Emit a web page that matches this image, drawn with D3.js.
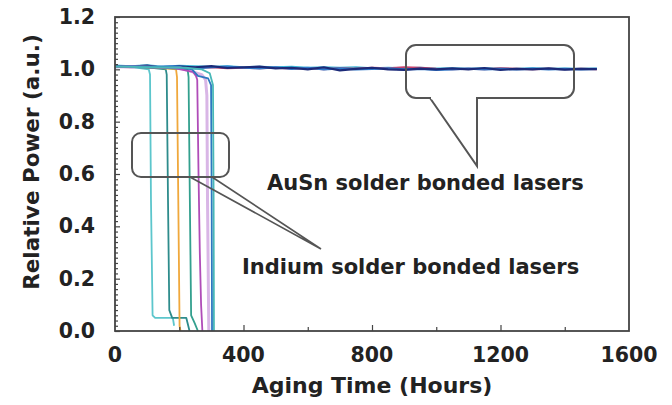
<!DOCTYPE html>
<html><head><meta charset="utf-8">
<script src="https://cdn.jsdelivr.net/npm/d3@7"></script>
<style>
html,body{margin:0;padding:0;background:#fff;}
text{font-family:"DejaVu Sans",Verdana,sans-serif;font-weight:bold;fill:#222;}
</style></head>
<body><svg id="c" width="672" height="405"></svg>
<script>
// ---- data ----
const xTicks = [0, 400, 800, 1200, 1600];
const yTicks = [0.0, 0.2, 0.4, 0.6, 0.8, 1.0, 1.2];
const xLabel = "Aging Time (Hours)";
const yLabel = "Relative Power (a.u.)";
const ausnHours = [0,50,100,150,200,250,300,350,400,450,500,550,600,650,700,750,800,850,900,950,1000,1050,1100,1150,1200,1250,1300,1350,1400,1450,1500];
const ausnNavy  = [1.012,1.01,1.014,1.006,1.01,1.008,1.012,1.005,1.008,1.01,1.004,1.006,1.0,1.008,0.996,1.002,1.006,1.0,0.998,1.003,1.0,1.004,1.0,1.005,0.998,1.002,1.0,1.004,0.999,1.002,1.001];
const ausnBlue  = [1.008,1.012,1.006,1.01,1.012,1.004,1.008,1.01,1.006,1.004,1.008,1.002,1.006,1.0,1.004,1.0,1.002,1.004,1.0,1.002,0.998,1.0,1.003,1.0,1.002,1.0,1.003,1.0,1.002,1.0,1.002];
const ausnCyan  = [1.015,1.012,1.016,1.01,1.014,1.012,1.01,1.012,1.008,1.01,1.008,1.01,1.006,1.008,1.006,1.008,1.004,1.006,1.004,1.006,1.003,1.004,1.002,1.004,1.003,1.002,1.004,1.002,1.003,1.002,1.003];
const ausnRed   = [1.01,1.008,1.01,1.006,1.008,1.006,1.008,1.004,1.006,1.004,1.006,1.002,1.004,1.0,1.004,1.002,1.006,1.004,1.008,1.006,1.002,1.0,1.002,1.0,1.004,1.002,1.0,1.002,1.0,1.002,1.0];
const indiumCyan   = [[0,1.01],[60,1.008],[105,1.0],[109,0.98],[112,0.5],[117,0.06],[125,0.05],[180,0.05],[184,0.02]];
const indiumTeal   = [[0,1.01],[100,1.008],[158,1.0],[161,0.98],[165,0.5],[169,0.08],[178,0.05],[222,0.05],[228,0.02],[232,0.0]];
const indiumOrange = [[0,1.01],[120,1.008],[190,1.0],[193,0.97],[197,0.5],[201,0.02],[204,0.0]];
const indiumGreen  = [[0,1.01],[150,1.006],[226,1.0],[229,0.97],[233,0.5],[237,0.06],[248,0.03],[258,0.0]];
const indiumMagenta= [[0,1.01],[180,1.006],[243,0.99],[252,0.975],[256,0.96],[260,0.6],[264,0.3],[268,0.1],[272,0.0]];
const indiumLilac  = [[0,1.01],[200,1.006],[270,0.98],[282,0.96],[286,0.9],[288,0.5],[292,0.0]];
const indiumBlue   = [[0,1.012],[200,1.008],[240,1.0],[258,0.975],[290,0.965],[299,0.94],[301,0.5],[302,0.0]];
const indiumTeal2  = [[0,1.01],[220,1.006],[270,1.0],[295,0.985],[305,0.94],[307,0.5],[308,0.0]];

// ---- layout ----
const svg = d3.select("#c");
const x = d3.scaleLinear().domain([0,1600]).range([115,629]);
const y = d3.scaleLinear().domain([0,1.2]).range([331,17]);

const ausnSeries = [
  {v: ausnCyan, c:"#3fb8d8", w:2},
  {v: ausnRed, c:"#c8406a", w:2},
  {v: ausnBlue, c:"#2f78c8", w:2.2},
  {v: ausnNavy, c:"#1c2a78", w:2.2}
];
const line = d3.line().x(d=>x(d[0])).y(d=>y(d[1]));
ausnSeries.forEach(s=>{
  svg.append("path").attr("d", line(ausnHours.map((h,i)=>[h,s.v[i]])))
    .attr("fill","none").attr("stroke",s.c).attr("stroke-width",s.w).attr("stroke-linejoin","round");
});

const indiumSeries = [
  {v: indiumLilac, c:"#d9b6e6", w:3},
  {v: indiumCyan, c:"#5cc6cc", w:1.8},
  {v: indiumTeal, c:"#2e8c8c", w:1.8},
  {v: indiumOrange, c:"#f0a83c", w:1.8},
  {v: indiumGreen, c:"#33a08e", w:1.8},
  {v: indiumMagenta, c:"#b04cb8", w:1.8},
  {v: indiumBlue, c:"#2d78c0", w:1.8},
  {v: indiumTeal2, c:"#48b8b8", w:1.8}
];
indiumSeries.forEach(s=>{
  svg.append("path").attr("d", line(s.v))
    .attr("fill","none").attr("stroke",s.c).attr("stroke-width",s.w).attr("stroke-linejoin","round");
});

svg.append("rect").attr("x",x(0)).attr("y",y(1.2)).attr("width",x(1600)-x(0)).attr("height",y(0)-y(1.2))
  .attr("fill","none").attr("stroke","#444").attr("stroke-width",1.8);

const xAxis = d3.axisTop(x).tickValues(d3.range(200,1600,200)).tickSize(5).tickFormat("");
const gx = svg.append("g").attr("transform",`translate(0,${y(0)})`).call(xAxis);
gx.select(".domain").remove();
gx.selectAll(".tick line").attr("stroke","#444").attr("stroke-width",1.2)
  .attr("y2", d=> d%400===0 ? -6 : -4);
const yAxis = d3.axisRight(y).tickValues(d3.range(0,1.2001,0.02)).tickSize(3).tickFormat("");
const gy = svg.append("g").attr("transform",`translate(${x(0)},0)`).call(yAxis);
gy.select(".domain").remove();
gy.selectAll(".tick line").attr("stroke","#444").attr("stroke-width",1.2)
  .attr("x2", (d,i)=> i%10===0 ? 5 : 3);

svg.selectAll(".xl").data(xTicks).enter().append("text")
  .attr("x",d=>x(d)).attr("y",y(0)+31).attr("text-anchor","middle").attr("font-size",20.5).text(d=>d);
svg.selectAll(".yl").data(yTicks).enter().append("text")
  .attr("x",95).attr("y",d=>y(d)+7).attr("text-anchor","end").attr("font-size",20.5).text(d=>d.toFixed(1));

svg.append("text").attr("x",(x(0)+x(1600))/2).attr("y",393).attr("text-anchor","middle").attr("font-size",22).text(xLabel);
svg.append("text").attr("transform","translate(39,162) rotate(-90)").attr("text-anchor","middle").attr("font-size",21.5).text(yLabel);

const cs = "#555";
function bubble(x0,y0,x1,y1,r){
  svg.append("rect").attr("x",x0).attr("y",y0).attr("width",x1-x0).attr("height",y1-y0).attr("rx",r).attr("ry",r)
    .attr("fill","none").attr("stroke",cs).attr("stroke-width",2);
}
bubble(406,45,574,98,10);
svg.append("path").attr("d","M430,98 L477,166 L477,98").attr("fill","none").attr("stroke",cs).attr("stroke-width",2);
svg.append("line").attr("x1",431).attr("x2",476).attr("y1",98).attr("y2",98).attr("stroke","#fff").attr("stroke-width",2.5);
bubble(132,133,229,177,9);
svg.append("path").attr("d","M190,177 L321,249 L212,177").attr("fill","none").attr("stroke",cs).attr("stroke-width",1.6);

svg.append("text").attr("x",267).attr("y",190).attr("font-size",21).text("AuSn solder bonded lasers");
svg.append("text").attr("x",242).attr("y",274).attr("font-size",21).text("Indium solder bonded lasers");
</script></body></html>
